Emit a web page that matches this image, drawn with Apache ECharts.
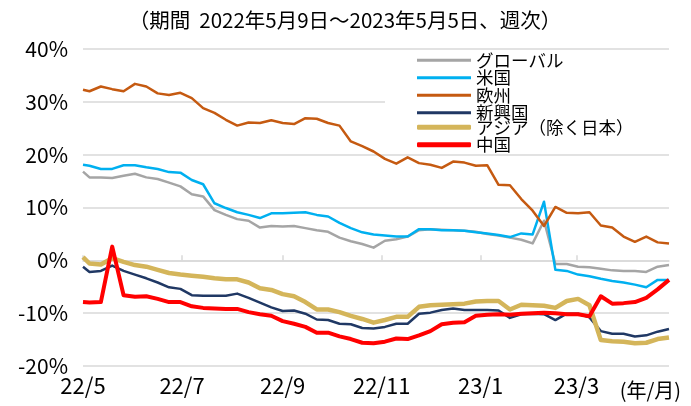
<!DOCTYPE html>
<html>
<head>
<meta charset="utf-8">
<script src="https://cdn.jsdelivr.net/npm/echarts@6/dist/echarts.min.js"></script>
<style>
  html, body { margin: 0; padding: 0; background: #fff; }
  #chart { width: 691px; height: 406px; }
</style>
</head>
<body>
<div id="chart"></div>
<script>
// weekly dates (start 2022/5/9, then Fridays up to 2023/5/5)
const dates = [
  "2022-05-09", "2022-05-13", "2022-05-20", "2022-05-27", "2022-06-03", "2022-06-10", "2022-06-17", "2022-06-24",
  "2022-07-01", "2022-07-08", "2022-07-15", "2022-07-22", "2022-07-29", "2022-08-05", "2022-08-12", "2022-08-19",
  "2022-08-26", "2022-09-02", "2022-09-09", "2022-09-16", "2022-09-23", "2022-09-30", "2022-10-07", "2022-10-14",
  "2022-10-21", "2022-10-28", "2022-11-04", "2022-11-11", "2022-11-18", "2022-11-25", "2022-12-02", "2022-12-09",
  "2022-12-16", "2022-12-23", "2022-12-30", "2023-01-06", "2023-01-13", "2023-01-20", "2023-01-27", "2023-02-03",
  "2023-02-10", "2023-02-17", "2023-02-24", "2023-03-03", "2023-03-10", "2023-03-17", "2023-03-24", "2023-03-31",
  "2023-04-07", "2023-04-14", "2023-04-21", "2023-04-28", "2023-05-05"
];
const tickDates = ["2022-05-09", "2022-07-09", "2022-09-09", "2022-11-09", "2023-01-09", "2023-03-09"];
const tickLabels = ["22/5", "22/7", "22/9", "22/11", "23/1", "23/3"];

const globalVals = [16.8, 15.7, 15.7, 15.6, 16.0, 16.4, 15.7, 15.4, 14.7, 14.0, 12.5, 12.1, 9.5, 8.6, 7.8, 7.5, 6.2, 6.5, 6.4, 6.5, 6.1, 5.7, 5.4, 4.3, 3.6, 3.1, 2.4, 3.7, 4.0, 4.5, 5.7, 5.9, 5.8, 5.7, 5.6, 5.4, 5.0, 4.7, 4.3, 3.9, 3.2, 7.5, -0.7, -0.7, -1.2, -1.3, -1.6, -1.9, -2.0, -2.0, -2.2, -1.2, -0.9];
const usVals = [18.1, 17.9, 17.3, 17.3, 18.0, 18.0, 17.6, 17.3, 16.7, 16.6, 15.2, 14.4, 10.8, 9.9, 9.1, 8.6, 8.0, 8.9, 8.9, 9.0, 9.1, 8.6, 8.3, 7.1, 6.1, 5.3, 4.9, 4.7, 4.5, 4.5, 5.9, 5.9, 5.7, 5.7, 5.6, 5.3, 5.1, 4.8, 4.4, 5.1, 4.9, 11.1, -1.8, -2.0, -2.7, -3.0, -3.5, -3.9, -4.2, -4.6, -5.1, -3.7, -3.7];
const euVals = [32.3, 32.0, 32.9, 32.4, 32.0, 33.4, 32.9, 31.6, 31.3, 31.7, 30.7, 28.8, 27.9, 26.6, 25.5, 26.1, 26.0, 26.5, 26.0, 25.8, 26.9, 26.8, 26.0, 25.5, 22.5, 21.6, 20.6, 19.2, 18.3, 19.5, 18.4, 18.1, 17.5, 18.7, 18.5, 17.9, 18.0, 14.3, 14.2, 11.6, 9.4, 6.5, 10.1, 9.0, 8.9, 9.1, 6.6, 6.2, 4.5, 3.5, 4.5, 3.4, 3.2];
const emVals = [-1.2, -2.2, -2.0, -1.0, -2.0, -2.7, -3.4, -4.2, -5.1, -5.4, -6.6, -6.7, -6.7, -6.7, -6.3, -7.1, -8.0, -8.9, -9.6, -9.5, -10.1, -11.2, -11.3, -12.0, -12.1, -12.8, -12.9, -12.6, -12.0, -12.0, -10.1, -9.9, -9.4, -9.1, -9.4, -9.4, -9.4, -9.5, -10.9, -10.2, -10.1, -10.2, -11.3, -10.1, -10.1, -10.8, -13.4, -13.9, -13.9, -14.4, -14.2, -13.5, -13.0];
const asiaVals = [0.6, -0.6, -0.8, 0.4, -0.3, -0.9, -1.2, -1.8, -2.4, -2.7, -2.9, -3.1, -3.4, -3.6, -3.6, -4.2, -5.3, -5.6, -6.4, -6.8, -7.9, -9.3, -9.3, -9.8, -10.5, -11.1, -11.8, -11.3, -10.7, -10.7, -8.8, -8.5, -8.4, -8.3, -8.2, -7.8, -7.7, -7.7, -9.3, -8.4, -8.5, -8.6, -9.0, -7.7, -7.3, -8.5, -15.1, -15.3, -15.4, -15.7, -15.6, -14.9, -14.6];
const chinaVals = [-7.9, -8.0, -7.9, 2.6, -6.6, -6.9, -6.8, -7.3, -7.9, -7.9, -8.7, -9.0, -9.1, -9.2, -9.2, -9.8, -10.2, -10.5, -11.5, -12.0, -12.6, -13.7, -13.7, -14.4, -14.9, -15.6, -15.7, -15.4, -14.8, -14.9, -14.2, -13.4, -12.1, -11.8, -11.7, -10.5, -10.3, -10.2, -10.3, -10.1, -10.0, -9.9, -10.0, -10.2, -10.2, -10.6, -6.8, -8.2, -8.1, -7.9, -7.1, -5.5, -3.7];

const seriesList = [
  { name: "グローバル", data: globalVals, color: "#a5a5a5", width: 2.5 },
  { name: "米国", data: usVals, color: "#00b0f0", width: 2.5 },
  { name: "欧州", data: euVals, color: "#c55a11", width: 2.5 },
  { name: "新興国", data: emVals, color: "#203864", width: 2.5 },
  { name: "アジア（除く日本）", data: asiaVals, color: "#d4b55a", width: 4.5 },
  { name: "中国", data: chinaVals, color: "#ff0000", width: 4 }
];

const font = '"Noto Sans CJK JP", "Noto Sans", sans-serif';
// x is the number of days since the first date
const dayOf = (s) => Math.round((Date.UTC(+s.slice(0, 4), +s.slice(5, 7) - 1, +s.slice(8, 10)) - Date.UTC(2022, 4, 9)) / 86400000);
const days = dates.map(dayOf);
const tickDays = tickDates.map(dayOf);

const chart = echarts.init(document.getElementById("chart"));

const option = {
  animation: false,
  backgroundColor: "#fff",
  textStyle: { fontFamily: font },
  title: {
    text: "（期間  2022年5月9日～2023年5月5日、週次）",
    left: 340,
    textAlign: "center",
    top: 5,
    textStyle: { fontFamily: font, fontSize: 20.5, fontWeight: "normal", color: "#000" }
  },
  grid: { left: 83, right: 22, top: 49, bottom: 40 },
  legend: [
    {
      data: seriesList.slice(0, 4).map((s) => s.name),
      orient: "vertical",
      left: 385,
      top: 51.5,
      icon: "rect",
      itemWidth: 54,
      itemHeight: 3,
      itemGap: 0,
      padding: [0, 122, 0, 32],
      backgroundColor: "#fff",
      textStyle: { fontFamily: font, fontSize: 17.5, lineHeight: 17, color: "#000" }
    },
    {
      data: seriesList.slice(4).map((s) => s.name),
      orient: "vertical",
      left: 417,
      top: 118.5,
      icon: "roundRect",
      itemWidth: 54,
      itemHeight: 5,
      itemGap: 0,
      padding: 0,
      textStyle: { fontFamily: font, fontSize: 17.5, lineHeight: 17, color: "#000" }
    }
  ],
  xAxis: [
    {
      type: "value",
      min: 0,
      max: days[days.length - 1],
      axisLine: { show: false, onZero: false },
      axisTick: { show: false },
      splitLine: { show: false },
      axisLabel: {
        customValues: tickDays,
        margin: 9,
        fontFamily: font,
        fontSize: 22,
        color: "#000",
        formatter: (v) => tickLabels[tickDays.indexOf(v)] || ""
      }
    },
    {
      type: "value",
      min: 0,
      max: days[days.length - 1],
      position: "bottom",
      axisLine: { show: true, onZero: true, lineStyle: { color: "#d9d9d9", width: 1.5 } },
      axisTick: { show: true, inside: true, length: 5, customValues: tickDays, lineStyle: { color: "#d9d9d9", width: 1.5 } },
      axisLabel: { show: false },
      splitLine: { show: false }
    }
  ],
  yAxis: {
    type: "value",
    min: -20,
    max: 40,
    interval: 10,
    axisLine: { show: false },
    axisTick: { show: false },
    axisLabel: { formatter: "{value}%", margin: 15, fontFamily: font, fontSize: 21, color: "#000" },
    splitLine: { lineStyle: { color: "#d9d9d9", width: 1.5 } }
  },
  graphic: [
    {
      type: "text",
      right: 10,
      top: 380,
      style: { text: "(年/月)", fontFamily: font, fontSize: 20, fill: "#000" }
    }
  ],
  series: seriesList.map((s) => ({
    name: s.name,
    type: "line",
    xAxisIndex: 0,
    symbol: "none",
    color: s.color,
    lineStyle: { color: s.color, width: s.width, join: "round" },
    data: s.data.map((v, i) => [days[i], v])
  }))
};

chart.setOption(option);
</script>
</body>
</html>
